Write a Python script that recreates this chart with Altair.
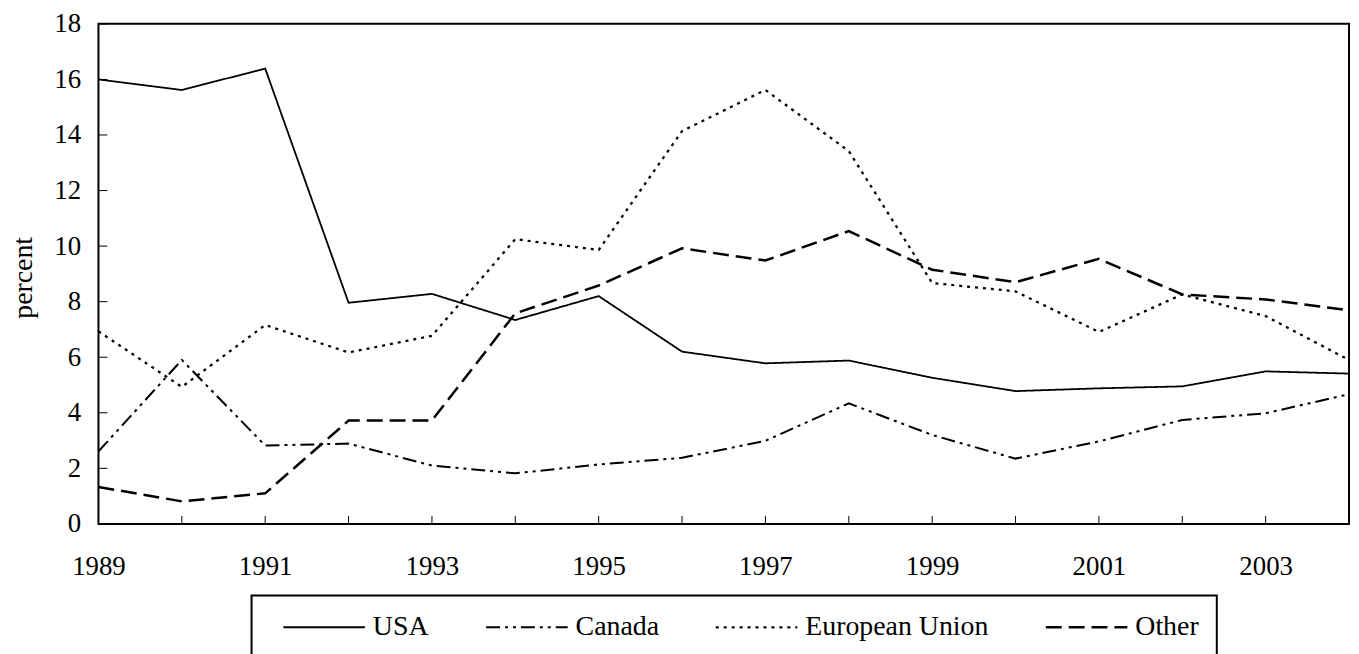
import altair as alt
import pandas as pd

years = list(range(1989, 2005))
series_names = ["USA", "Canada", "European Union", "Other"]

usa = [16.0, 15.62, 16.39, 7.96, 8.28, 7.34, 8.2, 6.2, 5.78, 5.88, 5.26, 4.78, 4.88, 4.95, 5.49, 5.41]
canada = [2.61, 5.9, 2.82, 2.89, 2.1, 1.82, 2.14, 2.38, 2.99, 4.34, 3.2, 2.35, 2.97, 3.74, 3.98, 4.67]
eu = [6.93, 4.93, 7.16, 6.17, 6.77, 10.25, 9.86, 14.14, 15.62, 13.42, 8.67, 8.37, 6.91, 8.26, 7.48, 5.9]
other = [1.33, 0.81, 1.1, 3.72, 3.72, 7.58, 8.58, 9.92, 9.48, 10.54, 9.15, 8.7, 9.54, 8.26, 8.08, 7.69]

x_label_years = [1989, 1991, 1993, 1995, 1997, 1999, 2001, 2003]
y_ticks = [0, 2, 4, 6, 8, 10, 12, 14, 16, 18]

rows = []
for name, vals in zip(series_names, [usa, canada, eu, other]):
    for yr, v in zip(years, vals):
        rows.append({"year": yr, "series": name, "value": v})
df = pd.DataFrame(rows)

FONT = "'Liberation Serif', 'Times New Roman', Times, serif"
PLOT_H = 503
xscale = alt.Scale(domain=[1989, 2004], nice=False, zero=False)
yscale = alt.Scale(domain=[0, 18], nice=False, zero=True)

xaxis = alt.Axis(values=x_label_years, format="d", title=None, grid=False,
                 ticks=False, tickSize=0, domain=False, labelFlush=False,
                 labelFont=FONT, labelFontSize=27, labelColor="black",
                 labelPadding=30)
yaxis = alt.Axis(values=y_ticks, title="percent", grid=False,
                 ticks=False, tickSize=0, domain=False, labelFlush=False,
                 labelFont=FONT, labelFontSize=27, labelColor="black",
                 labelPadding=18,
                 titleFont=FONT, titleFontSize=28, titleFontWeight="normal",
                 titleColor="black", titleAngle=270, titleX=-75, titleY=255,
                 titleAlign="center", titleBaseline="middle")

lines = alt.Chart(df).mark_line(color="black", strokeCap="butt", strokeJoin="miter").encode(
    x=alt.X("year:Q", scale=xscale, axis=xaxis),
    y=alt.Y("value:Q", scale=yscale, axis=yaxis),
    strokeDash=alt.StrokeDash("series:N",
                              scale=alt.Scale(domain=series_names,
                                              range=[[1, 0], [14, 5, 3, 5, 3, 5], [3, 5], [16, 7]]),
                              legend=alt.Legend(title=None, orient="none", legendX=154, legendY=575,
                                                direction="horizontal", symbolType="M0,0H8.2",
                                                symbolSize=400, symbolStrokeWidth=2.4,
                                                symbolStrokeColor="black",
                                                labelFont=FONT, labelFontSize=28, labelColor="black",
                                                labelOffset=76, columnPadding=43, padding=18,
                                                labelLimit=400,
                                                strokeColor="black")),
    strokeWidth=alt.StrokeWidth("series:N",
                                scale=alt.Scale(domain=series_names, range=[1.8, 2.5, 3, 3]),
                                legend=None),
)

xt_df = pd.DataFrame({"year": years})
xticks = alt.Chart(xt_df).mark_rule(color="black", strokeWidth=1).encode(
    x=alt.X("year:Q", scale=xscale, axis=xaxis),
    y=alt.value(PLOT_H - 8), y2=alt.value(PLOT_H),
)

yt_df = pd.DataFrame({"value": y_ticks})
yticks = alt.Chart(yt_df).mark_rule(color="black", strokeWidth=1).encode(
    y=alt.Y("value:Q", scale=yscale, axis=yaxis),
    x=alt.value(0), x2=alt.value(9),
)

chart = alt.layer(lines, xticks, yticks).properties(
    width=1258, height=PLOT_H,
    autosize=alt.AutoSizeParams(type="none"),
    padding={"left": 91, "top": 14, "right": 2, "bottom": 140},
).configure_view(stroke="black", strokeWidth=2).configure_legend(strokeWidth=2)

chart.save("out.html", embed_options={"renderer": "svg", "actions": False})
